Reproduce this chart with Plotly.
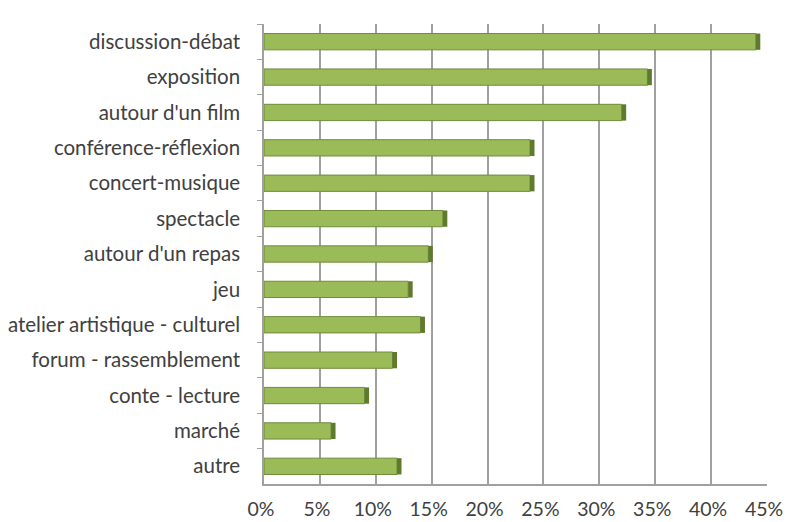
import plotly.graph_objects as go

categories = ["discussion-débat", "exposition", "autour d'un film", "conférence-réflexion",
              "concert-musique", "spectacle", "autour d'un repas", "jeu",
              "atelier artistique - culturel", "forum - rassemblement", "conte - lecture",
              "marché", "autre"]
values = [44.0, 34.3, 32.0, 23.8, 23.8, 16.0, 14.7, 12.9, 14.0, 11.5, 9.0, 6.0, 11.9]
tick_vals = [0, 5, 10, 15, 20, 25, 30, 35, 40, 45]
tick_text = ["0%", "5%", "10%", "15%", "20%", "25%", "30%", "35%", "40%", "45%"]

fig = go.Figure()
fig.add_trace(go.Bar(
    y=categories, x=values, orientation="h", width=0.46,
    marker=dict(color="#9BBB59", line=dict(color="#6F8B3A", width=1)),
    showlegend=False, hovertemplate="%{y}: %{x}%<extra></extra>",
))
# darker end face to suggest the 3D side
fig.add_trace(go.Bar(
    y=categories, x=[0.4] * len(values), base=values, orientation="h", width=0.46,
    marker=dict(color="#5F7A2C", line=dict(width=0)),
    showlegend=False, hoverinfo="skip",
))

fig.update_layout(
    width=803, height=522,
    margin=dict(l=264, r=36, t=24, b=38),
    paper_bgcolor="white", plot_bgcolor="white",
    barmode="overlay",
    font=dict(family="Lato, Carlito, sans-serif", size=20, color="#404040"),
    xaxis=dict(
        range=[0, 45], tickvals=tick_vals, ticktext=tick_text,
        showgrid=True, gridcolor="#A0A0A0", gridwidth=1.5,
        showline=True, linecolor="#A0A0A0", linewidth=1.5,
        ticks="", ticklabelstandoff=7, ticklabelshift=-3,
        zeroline=False, fixedrange=True, automargin=False,
        tickfont=dict(size=19.5),
    ),
    yaxis=dict(
        categoryorder="array", categoryarray=categories, autorange="reversed",
        showline=True, linecolor="#A0A0A0", linewidth=1.5,
        ticks="outside", tickson="boundaries", ticklen=5, tickcolor="#A0A0A0",
        ticklabelstandoff=18,
        showgrid=False, fixedrange=True, automargin=False,
        tickfont=dict(size=20.5),
    ),
)

fig.write_html(
    "out.html",
    config={"displayModeBar": False},
    post_script="document.body.style.margin='0';document.body.style.overflow='hidden';",
)
